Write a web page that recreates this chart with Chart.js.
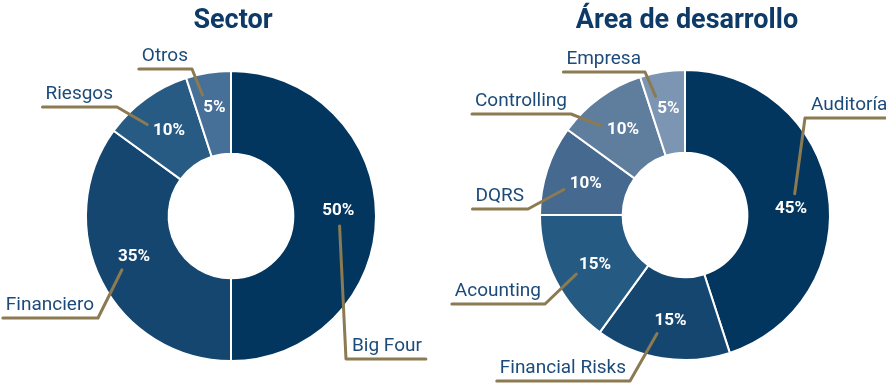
<!DOCTYPE html>
<html>
<head>
<meta charset="utf-8">
<script src="https://cdn.jsdelivr.net/npm/chart.js@4.4.1/dist/chart.umd.min.js"></script>
<style>
  html, body { margin: 0; padding: 0; background: #ffffff; }
  #wrap { position: relative; width: 886px; height: 385px; }
  .box { position: absolute; top: 0; width: 443px; height: 385px; }
  #b1 { left: 0; }
  #b2 { left: 443px; }
</style>
</head>
<body>
<div id="wrap">
  <div class="box" id="b1"><canvas id="c1" width="443" height="385"></canvas></div>
  <div class="box" id="b2"><canvas id="c2" width="443" height="385"></canvas></div>
</div>
<script>
// ---- Data ----
const sectorTitle = "Sector";
const sectorLabels = ["Big Four", "Financiero", "Riesgos", "Otros"];
const sectorValues = [50, 35, 10, 5];

const areaTitle = "Área de desarrollo";
const areaLabels = ["Auditoría", "Financial Risks", "Acounting", "DQRS", "Controlling", "Empresa"];
const areaValues = [45, 15, 15, 10, 10, 5];

// ---- Styles ----
const sectorColors = ["#03365f", "#154670", "#275b83", "#477098"];
const areaColors = ["#03365f", "#154670", "#255a82", "#45698f", "#5f7e9e", "#7c95b2"];
const titleColor = "#0d3a66";
const nameColor = "#1c4b7a";
const leaderColor = "#8b7a52";

// ---- Callout layout (elbow offsets from donut centre, side of underline) ----
const sectorCallouts = [
  { dx: 115, dy: 143, side: "right" },
  { dx: -133, dy: 102, side: "left" },
  { dx: -114, dy: -109, side: "left" },
  { dx: -39, dy: -147, side: "left" }
];
const sectorNudge = [[2, -5], [-3, -7], [0, 0], [0, -4]];

const areaCallouts = [
  { dx: 120, dy: -97, side: "right" },
  { dx: -55, dy: 166, side: "left" },
  { dx: -140, dy: 89, side: "left" },
  { dx: -157, dy: -6, side: "left" },
  { dx: -114, dy: -101, side: "left" },
  { dx: -40, dy: -143, side: "left" }
];
const areaNudge = [[2, 10], [2, 2], [4, 2], [1, 1], [0, 0], [0, -2]];

function calloutPlugin(title, callouts, nudges) {
  return {
    id: "callouts",
    afterDatasetsDraw(chart) {
      const ctx = chart.ctx;
      const meta = chart.getDatasetMeta(0);
      const ds = chart.data.datasets[0];
      ctx.save();
      // title
      const cx0 = meta.data[0].x;
      ctx.font = "bold 27px Roboto";
      ctx.fillStyle = titleColor;
      ctx.textAlign = "center";
      ctx.textBaseline = "middle";
      ctx.fillText(title, cx0 + 2, 21);

      meta.data.forEach((arc, i) => {
        const p = arc.getProps(["x", "y", "startAngle", "endAngle", "innerRadius", "outerRadius"], true);
        const mid = (p.startAngle + p.endAngle) / 2;
        const r = p.innerRadius + 0.52 * (p.outerRadius - p.innerRadius);
        const lx = p.x + Math.cos(mid) * r + nudges[i][0];
        const ly = p.y + Math.sin(mid) * r + nudges[i][1];

        const co = callouts[i];
        const ex = p.x + co.dx;
        const ey = p.y + co.dy;
        const vx = ex - lx, vy = ey - ly;
        const len = Math.hypot(vx, vy);
        const ux = vx / len, uy = vy / len;
        const sx = lx + ux * 24;
        const sy = ly + uy * 15;

        const name = chart.data.labels[i];
        ctx.font = "19px Roboto";
        const tw = ctx.measureText(name).width;
        let endX, textX;
        if (co.side === "right") {
          textX = ex + 6;
          endX = textX + tw + 4;
          ctx.textAlign = "left";
        } else {
          textX = ex - 4;
          endX = textX - tw - 3;
          ctx.textAlign = "right";
        }
        // leader
        ctx.strokeStyle = leaderColor;
        ctx.lineWidth = 3;
        ctx.lineCap = "round";
        ctx.lineJoin = "round";
        ctx.beginPath();
        ctx.moveTo(sx, sy);
        ctx.lineTo(ex, ey);
        ctx.lineTo(endX, ey);
        ctx.stroke();
        // name
        ctx.fillStyle = nameColor;
        ctx.textBaseline = "middle";
        ctx.fillText(name, textX, ey - 13);
        // percent
        ctx.font = "bold 17px Roboto";
        ctx.fillStyle = "#ffffff";
        ctx.textAlign = "center";
        ctx.fillText(ds.data[i] + "%", lx, ly);
      });
      ctx.restore();
    }
  };
}

function makeChart(id, labels, values, colors, padding, title, callouts, nudges) {
  return new Chart(document.getElementById(id), {
    type: "doughnut",
    data: {
      labels: labels,
      datasets: [{
        data: values,
        backgroundColor: colors,
        borderColor: "#ffffff",
        borderWidth: 2,
        hoverOffset: 0
      }]
    },
    options: {
      responsive: false,
      animation: false,
      cutout: "43%",
      layout: { padding: padding },
      plugins: {
        legend: { display: false },
        tooltip: { enabled: false },
        title: { display: false }
      },
      events: []
    },
    plugins: [calloutPlugin(title, callouts, nudges)]
  });
}

makeChart("c1", sectorLabels, sectorValues, sectorColors,
  { left: 85, right: 66, top: 70, bottom: 23 }, sectorTitle, sectorCallouts, sectorNudge);
makeChart("c2", areaLabels, areaValues, areaColors,
  { left: 96, right: 55, top: 69, bottom: 24 }, areaTitle, areaCallouts, areaNudge);
</script>
</body>
</html>
